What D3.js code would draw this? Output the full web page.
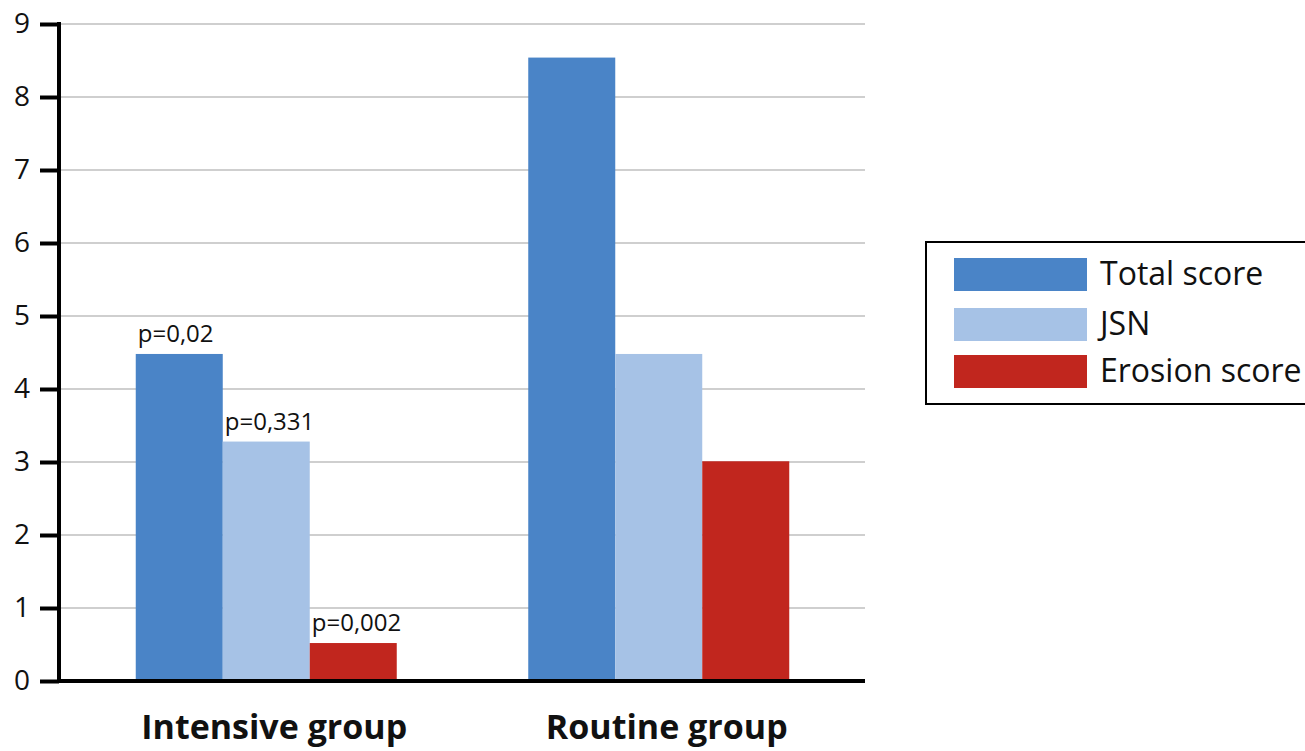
<!DOCTYPE html>
<html>
<head>
<meta charset="utf-8">
<script src="https://cdn.jsdelivr.net/npm/d3@7"></script>
<style>
  html, body { margin: 0; padding: 0; background: #fff; }
  svg { display: block; font-family: "Open Sans", "Noto Sans", sans-serif; }
</style>
</head>
<body>
<svg id="chart" width="1305" height="751"></svg>
<script>
// ---- data ----
const groups = ["Intensive group", "Routine group"];
const seriesNames = ["Total score", "JSN", "Erosion score"];
const totalScore = [4.48, 8.54];
const jsn = [3.28, 4.48];
const erosionScore = [0.52, 3.01];
const pLabels = ["p=0,02", "p=0,331", "p=0,002"]; // for Intensive group bars
const yTicks = [0, 1, 2, 3, 4, 5, 6, 7, 8, 9];
const colors = ["#4a84c7", "#a6c2e6", "#c1261e"];

const values = [totalScore, jsn, erosionScore];

const svg = d3.select("#chart");

const plotLeft = 61, plotRight = 865, plotTop = 24, plotBottom = 681;

const y = d3.scaleLinear().domain([0, 9]).range([plotBottom, plotTop]);
const x0 = d3.scaleBand().domain(groups).range([70, 855]);
const x1 = d3.scaleBand().domain(seriesNames).range([65.75, 326.75]);

// gridlines
svg.append("g")
  .selectAll("line")
  .data(yTicks.filter(d => d > 0))
  .join("line")
  .attr("x1", plotLeft).attr("x2", plotRight)
  .attr("y1", d => y(d)).attr("y2", d => y(d))
  .attr("stroke", "#cfcfcf").attr("stroke-width", 2);

// bars
const gGroups = svg.append("g").selectAll("g")
  .data(groups)
  .join("g")
  .attr("transform", d => `translate(${x0(d)},0)`);

gGroups.selectAll("rect")
  .data((g, gi) => seriesNames.map((s, si) => ({ s, si, gi, v: values[si][gi] })))
  .join("rect")
  .attr("x", d => x1(d.s))
  .attr("width", x1.bandwidth())
  .attr("y", d => y(d.v))
  .attr("height", d => y(0) - y(d.v))
  .attr("fill", d => colors[d.si]);

// p labels on Intensive group
svg.append("g").selectAll("text")
  .data(seriesNames.map((s, si) => ({ s, si, v: values[si][0], t: pLabels[si] })))
  .join("text")
  .attr("x", d => x0(groups[0]) + x1(d.s) + 2)
  .attr("y", d => y(d.v) - 12)
  .attr("font-size", 24)
  .attr("fill", "#111")
  .text(d => d.t);

// y axis
const yAxis = d3.axisLeft(y).tickValues(yTicks).tickSize(19).tickPadding(10).tickFormat(d3.format("d"));
const gy = svg.append("g").attr("transform", `translate(${plotLeft - 2},0)`).call(yAxis);
gy.select(".domain").remove();
gy.selectAll(".tick line").attr("stroke", "#000").attr("stroke-width", 4);
gy.selectAll(".tick text").attr("font-size", 28).attr("fill", "#111")
  .attr("font-family", "'Open Sans', sans-serif");

// axis lines
svg.append("line").attr("x1", plotLeft - 2).attr("x2", plotLeft - 2)
  .attr("y1", plotTop - 2).attr("y2", plotBottom + 2)
  .attr("stroke", "#000").attr("stroke-width", 4);
svg.append("line").attr("x1", plotLeft - 4).attr("x2", plotRight)
  .attr("y1", plotBottom).attr("y2", plotBottom)
  .attr("stroke", "#000").attr("stroke-width", 4);

// category labels
svg.append("g").selectAll("text")
  .data(groups)
  .join("text")
  .attr("x", d => x0(d) + x1.range()[0] + (x1.range()[1] - x1.range()[0]) / 2 + 8)
  .attr("y", 739)
  .attr("text-anchor", "middle")
  .attr("font-size", 34)
  .attr("font-weight", "bold")
  .attr("fill", "#111")
  .text(d => d);

// legend
const lg = svg.append("g");
lg.append("rect").attr("x", 926).attr("y", 242).attr("width", 400).attr("height", 162)
  .attr("fill", "none").attr("stroke", "#000").attr("stroke-width", 2);
const items = lg.selectAll("g.item").data(seriesNames).join("g").attr("class", "item");
const rowY = [258, 308, 355];
items.append("rect")
  .attr("x", 954).attr("y", (d, i) => rowY[i])
  .attr("width", 133).attr("height", 33)
  .attr("fill", (d, i) => colors[i]);
items.append("text")
  .attr("x", 1100).attr("y", (d, i) => rowY[i] + 27)
  .attr("font-size", 32)
  .attr("fill", "#111")
  .text(d => d);
</script>
</body>
</html>
